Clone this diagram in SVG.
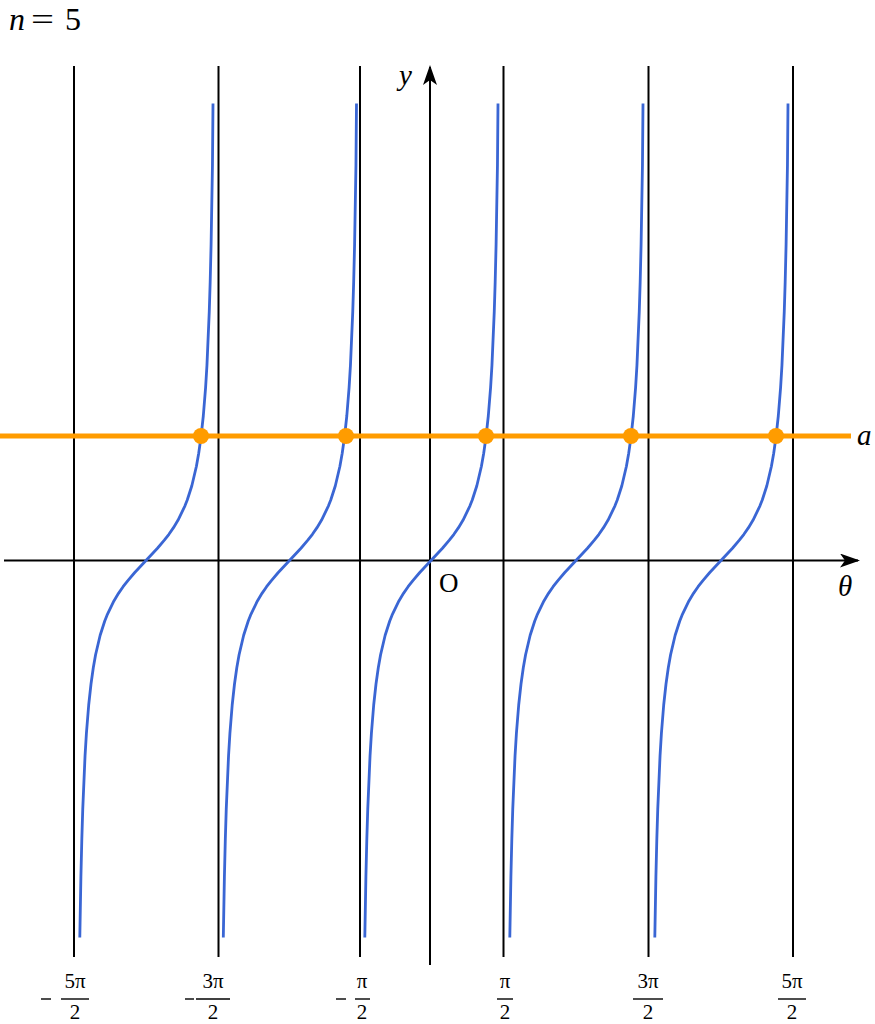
<svg xmlns="http://www.w3.org/2000/svg" xmlns:xlink="http://www.w3.org/1999/xlink" width="875" height="1024" viewBox="0 0 875 1024">
<style>
.asym{stroke:#000;stroke-width:2;fill:none}
.axis{stroke:#000;stroke-width:2;fill:none}
.curve{stroke:#3a66d4;stroke-width:2.8;fill:none;stroke-linejoin:round;stroke-linecap:butt}
.level{stroke:#ff9c00;stroke-width:5;fill:none}
.dot{fill:#ff9c00}
.it{font-family:"Liberation Serif","DejaVu Serif",serif;font-style:italic;fill:#000}
.rm{font-family:"Liberation Serif","DejaVu Serif",serif;fill:#000}
.frac{font-family:"Liberation Serif","DejaVu Serif",serif;font-size:21px;fill:#000;text-anchor:middle}
.bar{stroke:#000;stroke-width:1.4}
</style>
<defs>
<marker id="arr" viewBox="0 0 20 14" refX="18" refY="7" markerWidth="20" markerHeight="14" markerUnits="userSpaceOnUse" orient="auto">
<path d="M0,0 L20,7 L0,14 L5,7 Z" fill="#000"/>
</marker>
<path id="branch" class="curve" d="M-66.19,377 L-65.09,315.9 L-64.17,278.3 L-63.25,248.6 L-60.96,195.4 L-59.59,172.9 L-57.3,144.5 L-55,123.5 L-52.71,107.3 L-50.42,94.3 L-45.84,74.76 L-41.25,60.5 L-38.96,54.64 L-32.09,40.43 L-27.5,32.84 L-22.92,26.22 L-18.33,20.3 L-11.46,12.26 L0,0 L11.46,-12.26 L18.33,-20.3 L22.92,-26.22 L27.5,-32.84 L32.09,-40.43 L38.96,-54.64 L41.25,-60.5 L45.84,-74.76 L50.42,-94.3 L52.71,-107.3 L55,-123.5 L57.3,-144.5 L59.59,-172.9 L60.96,-195.4 L63.25,-248.6 L64.17,-278.3 L65.09,-315.9 L66.46,-395.4 L67.0,-457"/>
</defs>
<rect width="875" height="1024" fill="#fff"/>
<g id="asymptotes">
<line class="asym" x1="74" y1="66" x2="74" y2="957"/>
<line class="asym" x1="218.5" y1="66" x2="218.5" y2="957"/>
<line class="asym" x1="360" y1="66" x2="360" y2="957"/>
<line class="asym" x1="503.5" y1="66" x2="503.5" y2="957"/>
<line class="asym" x1="648.5" y1="66" x2="648.5" y2="957"/>
<line class="asym" x1="793" y1="66" x2="793" y2="957"/>
</g>
<g id="axes">
<line class="axis" x1="4" y1="560.5" x2="858" y2="560.5" marker-end="url(#arr)"/>
<line class="axis" x1="430" y1="965" x2="430" y2="67" marker-end="url(#arr)"/>
</g>
<g id="curves">
<use xlink:href="#branch" href="#branch" transform="translate(146,560.5)"/>
<use xlink:href="#branch" href="#branch" transform="translate(289.5,560.5)"/>
<use xlink:href="#branch" href="#branch" transform="translate(431,560.5)"/>
<use xlink:href="#branch" href="#branch" transform="translate(576,560.5)"/>
<use xlink:href="#branch" href="#branch" transform="translate(721,560.5)"/>
</g>
<g id="level-line">
<line class="level" x1="0" y1="436" x2="851" y2="436"/>
<circle class="dot" cx="201" cy="436" r="8"/>
<circle class="dot" cx="346" cy="436" r="8"/>
<circle class="dot" cx="486" cy="436" r="8"/>
<circle class="dot" cx="631" cy="436" r="8"/>
<circle class="dot" cx="776" cy="436" r="8"/>
</g>
<g id="labels">
<text class="it" x="9" y="30" font-size="32">n</text>
<text class="rm" x="31" y="30" font-size="32" textLength="23" lengthAdjust="spacingAndGlyphs">=</text>
<text class="rm" x="65" y="30" font-size="32">5</text>
<text class="it" x="399" y="85" font-size="29">y</text>
<text class="rm" x="439" y="592" font-size="27">O</text>
<text class="it" x="857" y="445" font-size="29">a</text>
<text class="it" x="838" y="596" font-size="29">θ</text>
</g>
<g id="tick-labels">
<line class="bar" x1="41" y1="999" x2="51" y2="999"/>
<text class="frac" x="75" y="988">5π</text>
<line class="bar" x1="61" y1="999" x2="89" y2="999"/>
<text class="frac" x="75" y="1019">2</text>
<line class="bar" x1="185" y1="999" x2="194" y2="999"/>
<text class="frac" x="213" y="988">3π</text>
<line class="bar" x1="196" y1="999" x2="230" y2="999"/>
<text class="frac" x="213" y="1019">2</text>
<line class="bar" x1="336" y1="999" x2="346" y2="999"/>
<text class="frac" x="362" y="988">π</text>
<line class="bar" x1="355" y1="999" x2="370" y2="999"/>
<text class="frac" x="362" y="1019">2</text>
<text class="frac" x="505" y="988">π</text>
<line class="bar" x1="497" y1="999" x2="513" y2="999"/>
<text class="frac" x="505" y="1019">2</text>
<text class="frac" x="648" y="988">3π</text>
<line class="bar" x1="633" y1="999" x2="663" y2="999"/>
<text class="frac" x="648" y="1019">2</text>
<text class="frac" x="792" y="988">5π</text>
<line class="bar" x1="778" y1="999" x2="806" y2="999"/>
<text class="frac" x="792" y="1019">2</text>
</g>
</svg>
